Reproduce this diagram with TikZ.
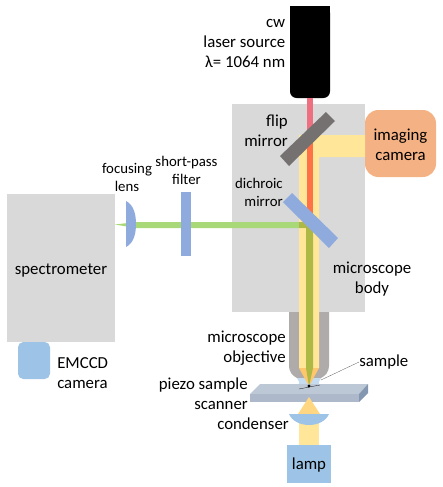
\documentclass[tikz,border=0pt]{standalone}
\usepackage{fontspec}
\setmainfont{Carlito}
\usepackage{xcolor}
\definecolor{BoxGray}{HTML}{D9D9D9}
\definecolor{BeamYellow}{HTML}{FFE699}
\definecolor{BeamGreen}{HTML}{A9D879}
\definecolor{BeamOlive}{HTML}{AEB845}
\definecolor{BeamRed}{HTML}{FF7248}
\definecolor{BeamPink}{HTML}{EE7080}
\definecolor{OptBlue}{HTML}{8FAADC}
\definecolor{PaleBlue}{HTML}{9DC3E6}
\definecolor{CamOrange}{HTML}{F4B183}
\definecolor{ObjGray}{HTML}{AFABAB}
\definecolor{FlipGray}{HTML}{767171}
\definecolor{StageFront}{HTML}{ADB9CA}
\definecolor{StageTop}{HTML}{BDC8D6}
\definecolor{StageSide}{HTML}{8497B0}
\tikzset{
  lbl/.style={font=\fontsize{12.6}{15}\selectfont, inner sep=0pt, align=right},
  smalllbl/.style={font=\fontsize{11.1}{13.5}\selectfont, inner sep=0pt, align=center},
}
\begin{document}
\begin{tikzpicture}[x=0.75pt, y=-0.75pt]
\useasboundingbox (0,0) rectangle (443,487);
% housings
\fill[BoxGray] (232,104) rectangle (365,312);
\fill[BoxGray] (7,194) rectangle (115,342);
\fill[ObjGray] (289,312) -- (289,366) .. controls (289,372) and (293,376) .. (297,378) -- (321,378) .. controls (325,376) and (329,372) .. (329,366) -- (329,312) -- cycle;
\fill[black, rounded corners=5pt] (290,6) -- (290,98) -- (330,98) -- (330,6) -- cycle;
\fill[black] (290,6) rectangle (330,20);
\fill[CamOrange, rounded corners=10pt] (365,110) rectangle (436,177);
\fill[PaleBlue, rounded corners=4pt] (18,342) rectangle (50,379);
% sample space
\fill[PaleBlue!60] (297,378) -- (321,378) .. controls (318,383) .. (322,391) -- (296,391) .. controls (300,383) .. (297,378) -- cycle;
% yellow light
\fill[BeamYellow] (299,135) -- (365,135) -- (365,157) -- (319,157) -- (319,368) -- (299,368) -- cycle;
\fill[BeamYellow!70!orange] (299,368) -- (319,368) -- (309,386) -- cycle;
% laser and signal
\fill[BeamPink] (306.5,98) rectangle (313,132);
\fill[BeamRed] (306.5,132) rectangle (313,225);
\fill[BeamGreen] (115,224.5) -- (136,222) -- (307,222) -- (307,228) -- (136,228) -- cycle;
\fill[BeamOlive] (299,222) -- (306.5,222) -- (306.5,228) -- (299,228) -- cycle;
\fill[BeamOlive] (306,225) -- (313,225) -- (313,368) -- (309,386) -- (306,368) -- cycle;
% optics
\fill[FlipGray] (326,112) -- (335,121) -- (289,166) -- (280,156) -- cycle;
\fill[OptBlue] (292,193) -- (338,238) -- (329,248) -- (283,202) -- cycle;
\fill[OptBlue] (181,192) rectangle (191,256);
\fill[OptBlue] (126,201) .. controls (134,205) and (136,215) .. (136,224) .. controls (136,233) and (134,243) .. (126,247) -- cycle;
% stage
\fill[StageTop] (250,394) -- (260,384) -- (368,384) -- (359,394) -- cycle;
\fill[StageFront] (250,394) rectangle (359,402);
\fill[StageSide] (359,394) -- (368,384) -- (368,393) -- (359,402) -- cycle;
% sample
\coordinate (focus) at (309,386);
\coordinate (pointend) at (321,380);
\draw[black, very thin] (299,389) -- (320,385);
\fill[black] (focus) circle (1.6);
% lamp side
\fill[BeamYellow] (299,414) rectangle (319,445);
\fill[BeamYellow!85!orange] (309,397) -- (320,414) -- (298,414) -- cycle;
\fill[PaleBlue] (289,414) -- (329,414) .. controls (326,421) and (318,425) .. (309,425) .. controls (300,425) and (292,421) .. (289,414) -- cycle;
\fill[PaleBlue] (287,445) rectangle (331,483);
% labels
\node[lbl, anchor=north east] (sourcelabel) at (285.5,19) {cw\\laser source\\λ= 1064 nm};
\node[lbl, anchor=north east] (fliplabel) at (288,115) {flip\\mirror};
\node[smalllbl, align=right, anchor=north east] (dichroiclabel) at (283,178) {dichroic\\mirror};
\node[lbl, align=center] (cameralabel) at (400.5,144.5) {imaging\\camera};
\node[smalllbl] (lenslabel) at (127,177.5) {focusing\\lens};
\node[smalllbl] (filterlabel) at (186.5,170.5) {short-pass\\filter};
\node[lbl, align=center] (speclabel) at (61,271) {spectrometer};
\node[lbl, align=left, anchor=north west] (emccdlabel) at (57,357) {EMCCD\\camera};
\node[lbl, align=center] (bodylabel) at (372,279) {microscope\\body};
\node[lbl, anchor=north east] (objlabel) at (286,331) {microscope\\objective};
\node[lbl, anchor=west] (samplelabel) at (359,362) {sample};
\node[lbl, anchor=north east] (piezolabel) at (248,377.5) {piezo sample\\scanner};
\node[lbl, anchor=east] (condlabel) at (289,424) {condenser};
\node[lbl, align=center] (lamplabel) at (309,465) {lamp};
\draw[black!70, very thin] (samplelabel.west) -- (pointend);
\end{tikzpicture}
\end{document}
